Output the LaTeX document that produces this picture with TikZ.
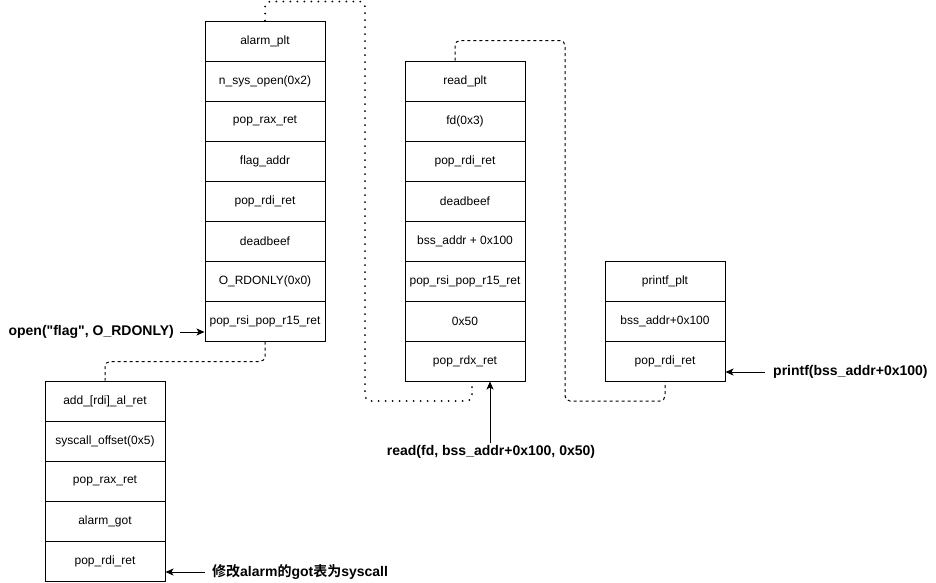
\documentclass[tikz,border=0pt]{standalone}
\usepackage{fontspec}
\setmainfont{Liberation Sans}[Ligatures=TeXOff]
\newfontfamily\cjk{Noto Sans CJK SC}[BoldFont={Noto Sans CJK SC Bold}]
\usetikzlibrary{arrows.meta,calc}
\begin{document}
\begin{tikzpicture}[x=1pt,y=-1pt,
  cell/.style={draw,line width=1pt,minimum width=120pt,minimum height=40pt,inner sep=0pt,font=\fontsize{12}{14}\selectfont},
  lbl/.style={inner sep=0pt,font=\bfseries\fontsize{14}{16}\selectfont},
  arr/.style={line width=1pt,-{Stealth[length=8pt,width=7pt,inset=2pt]}},
  dsh/.style={line width=1pt,dash pattern=on 3pt off 3pt,rounded corners=5pt},
  dtt/.style={line width=2pt,dash pattern=on 0pt off 7pt,line cap=round,rounded corners=5pt}]
\useasboundingbox (0,0) rectangle (936,582);
% stack 1
\foreach \t [count=\i] in {alarm\_plt,n\_sys\_open(0x2),pop\_rax\_ret,flag\_addr,pop\_rdi\_ret,deadbeef,O\_RDONLY(0x0),pop\_rsi\_pop\_r15\_ret}
  \node[cell] (a\i) at (265,{1+40*\i}) {\t};
% stack 2
\foreach \t [count=\i] in {add\_[rdi]\_al\_ret,syscall\_offset(0x5),pop\_rax\_ret,alarm\_got,pop\_rdi\_ret}
  \node[cell] (b\i) at (105,{361+40*\i}) {\t};
% stack 3
\foreach \t [count=\i] in {read\_plt,fd(0x3),pop\_rdi\_ret,deadbeef,bss\_addr + 0x100,pop\_rsi\_pop\_r15\_ret,0x50,pop\_rdx\_ret}
  \node[cell] (c\i) at (465,{41+40*\i}) {\t};
% stack 4
\foreach \t [count=\i] in {printf\_plt,bss\_addr+0x100,pop\_rdi\_ret}
  \node[cell] (d\i) at (665,{241+40*\i}) {\t};
% connectors
\draw[dsh] (a8.south) -- ++(0,20) -| (b1.north);
\coordinate (c8r) at ([xshift=7pt]c8.south);
\draw[dtt] (a1.north) -- ++(0,-19) -| (365,401) -| (c8r);
\coordinate (c1l) at ([xshift=-10pt]c1.north);
\draw[dsh] (c1l) -- ++(0,-20) -| (565,401) -| (d3.south);
% labels
\node[lbl,anchor=east] (openl) at (174,332) {open("flag", O\_RDONLY)};
\draw[arr] ([xshift=6pt]openl.east) -- (openl.east -| a8.west);
\node[lbl] (readl) at (491,452) {read(fd, bss\_addr+0x100, 0x50)};
\coordinate (readt) at ([xshift=25pt]c8.south);
\draw[arr] (readt |- readl.north) ++(0,-2) -- (readt);
\node[lbl,anchor=west] (printl) at (773,372) {printf(bss\_addr+0x100)};
\draw[arr] ([xshift=-8pt]printl.west) -- (printl.west -| d3.east);
\node[lbl,anchor=west] (cnl) at (212,572) {{\cjk\bfseries 修改}alarm{\cjk\bfseries 的}got{\cjk\bfseries 表为}syscall};
\draw[arr] ([xshift=-7pt]cnl.west) -- (cnl.west -| b5.east);
\end{tikzpicture}
\end{document}
